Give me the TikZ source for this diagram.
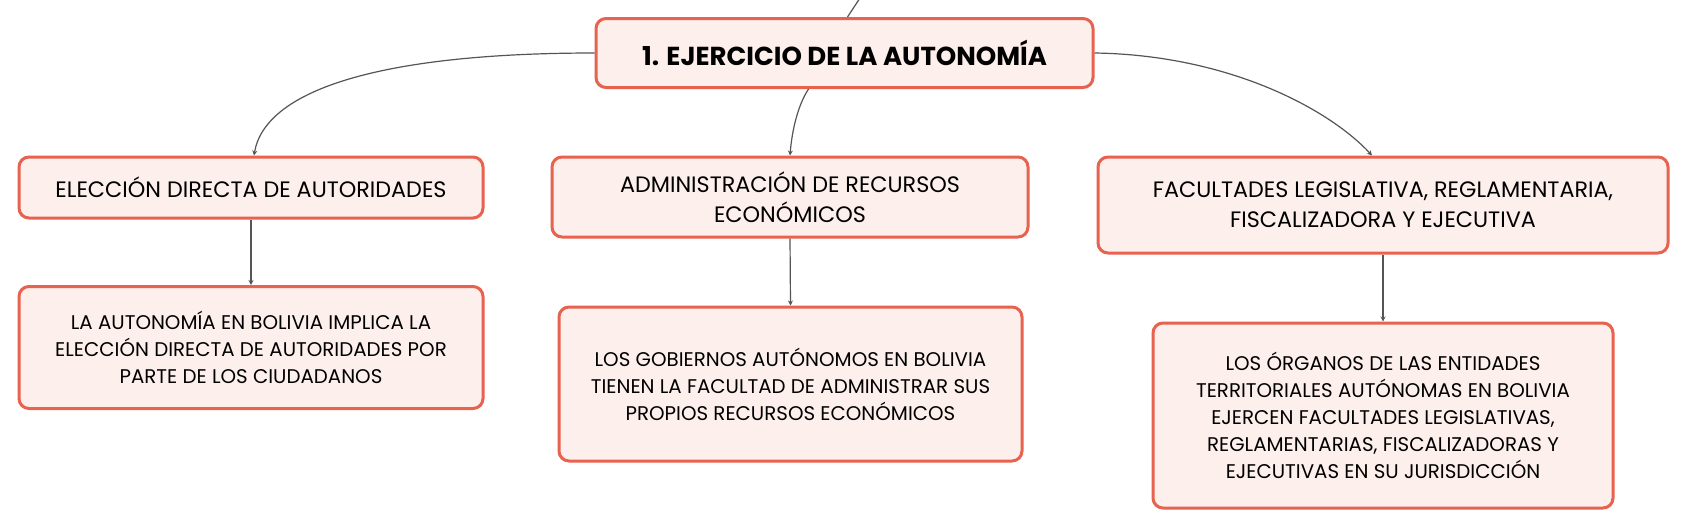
\documentclass[tikz,border=0pt]{standalone}
\usepackage{fontspec}
\setmainfont{Poppins}
\usetikzlibrary{arrows.meta}
\definecolor{boxborder}{RGB}{232,98,80}
\definecolor{boxfill}{RGB}{253,239,235}
\definecolor{linkgray}{RGB}{85,85,85}
\begin{document}
\begin{tikzpicture}[x=0.5pt,y=-0.5pt,
  box/.style={draw=boxborder, line width=1.5pt, fill=boxfill, rounded corners=5pt, align=center, inner sep=0pt, text=black},
  lvone/.style={box, font=\fontsize{11.15}{15}\selectfont},
  lvtwo/.style={box, font=\fontsize{9.9}{13.5}\selectfont},
  link/.style={draw=linkgray, line width=0.6pt, -{Stealth[length=2.5pt,width=2.5pt]}}]
\fill[white] (0,0) rectangle (1690,530);
\useasboundingbox (0,0) rectangle (1690,530);
\node[box, font=\bfseries\fontsize{13}{15}\selectfont, minimum width=248.5pt, minimum height=34.5pt] (root) at (844.5,53) {1. EJERCICIO DE LA AUTONOMÍA};
\node[lvone, minimum width=232pt, minimum height=30.5pt] (a1) at (251,187.5) {ELECCIÓN DIRECTA DE AUTORIDADES};
\node[lvtwo, minimum width=232pt, minimum height=61pt] (a2) at (251,347.5) {LA AUTONOMÍA EN BOLIVIA IMPLICA LA\\ELECCIÓN DIRECTA DE AUTORIDADES POR\\PARTE DE LOS CIUDADANOS};
\node[lvone, minimum width=238pt, minimum height=40pt] (b1) at (790,197) {ADMINISTRACIÓN DE RECURSOS\\ECONÓMICOS};
\node[lvtwo, minimum width=231.5pt, minimum height=77pt] (b2) at (790.5,384) {LOS GOBIERNOS AUTÓNOMOS EN BOLIVIA\\TIENEN LA FACULTAD DE ADMINISTRAR SUS\\PROPIOS RECURSOS ECONÓMICOS};
\node[lvone, minimum width=285pt, minimum height=48pt] (c1) at (1383,205) {FACULTADES LEGISLATIVA, REGLAMENTARIA,\\FISCALIZADORA Y EJECUTIVA};
\node[lvtwo, minimum width=230pt, minimum height=92.5pt] (c2) at (1383,415.5) {LOS ÓRGANOS DE LAS ENTIDADES\\TERRITORIALES AUTÓNOMAS EN BOLIVIA\\EJERCEN FACULTADES LEGISLATIVAS,\\REGLAMENTARIAS, FISCALIZADORAS Y\\EJECUTIVAS EN SU JURISDICCIÓN};
\coordinate (up) at (860,-2);
\draw[linkgray, line width=0.6pt] ([xshift=1.5pt]root.north) -- (up);
\draw[link] (root.west) .. controls (380,53) and (265,90) .. ([xshift=1.5pt]a1.north);
\draw[link] ([xshift=-18pt]root.south) .. controls (798,105) and (792,130) .. (b1.north);
\draw[link] (root.east) .. controls (1230,55) and (1330,110) .. ([xshift=-5.5pt]c1.north);
\draw[link] (a1.south) -- (a2.north);
\draw[link] (b1.south) -- (b2.north);
\draw[link] (c1.south) -- (c2.north);
\end{tikzpicture}
\end{document}
